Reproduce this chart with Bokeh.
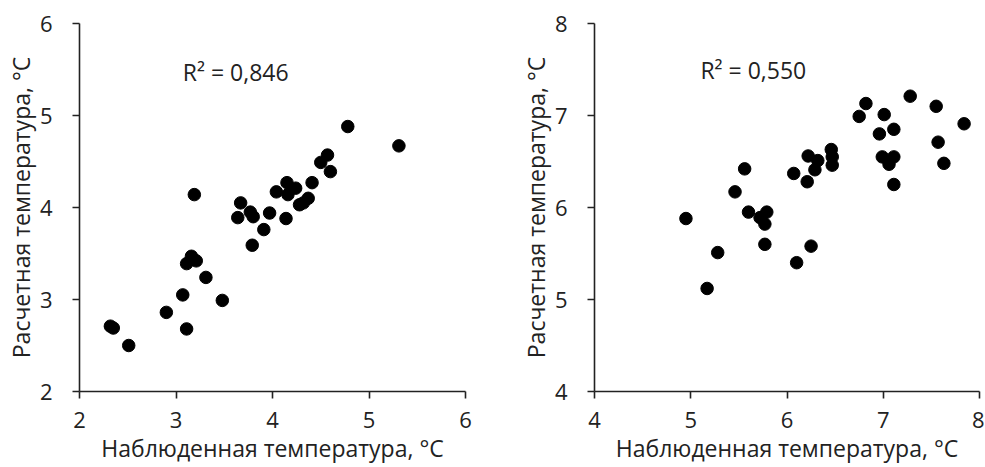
from bokeh.plotting import figure
from bokeh.layouts import row
from bokeh.models import Label, Range1d, FixedTicker
from bokeh.embed import file_html
from bokeh.resources import INLINE

# ---- data ----
obs_a = [2.32, 2.35, 2.51, 2.90, 3.07, 3.11, 3.11, 3.16, 3.21, 3.31, 3.48, 3.19,
         3.79, 3.91, 3.64, 3.67, 3.77, 3.80, 3.97, 4.14, 4.04, 4.15, 4.16, 4.24,
         4.28, 4.32, 4.37, 4.41, 4.50, 4.57, 4.60, 4.78, 5.31]
calc_a = [2.71, 2.69, 2.50, 2.86, 3.05, 2.68, 3.39, 3.47, 3.42, 3.24, 2.99, 4.14,
          3.59, 3.76, 3.89, 4.05, 3.95, 3.90, 3.94, 3.88, 4.17, 4.27, 4.14, 4.21,
          4.03, 4.05, 4.10, 4.27, 4.49, 4.57, 4.39, 4.88, 4.67]

obs_b = [4.95, 5.17, 5.28, 5.46, 5.56, 5.60, 5.72, 5.79, 5.77, 5.77, 6.07, 6.10,
         6.25, 6.21, 6.22, 6.32, 6.29, 6.46, 6.47, 6.47, 6.75, 6.82, 6.96, 7.01,
         7.11, 6.99, 7.11, 7.06, 7.11, 7.28, 7.55, 7.57, 7.63, 7.84]
calc_b = [5.88, 5.12, 5.51, 6.17, 6.42, 5.95, 5.89, 5.95, 5.82, 5.60, 6.37, 5.40,
          5.58, 6.28, 6.56, 6.51, 6.41, 6.63, 6.55, 6.46, 6.99, 7.13, 6.80, 7.01,
          6.85, 6.55, 6.55, 6.47, 6.25, 7.21, 7.10, 6.71, 6.48, 6.91]

r2_labels = ["R\u00b2 = 0,846", "R\u00b2 = 0,550"]
ticks_a = [2, 3, 4, 5, 6]
ticks_b = [4, 5, 6, 7, 8]
x_title = "Наблюденная температура, °C"
y_title = "Расчетная температура, °C"

FONT = "Open Sans"


def make_fig(xs, ys, ticks, r2, r2_pos, width, bl, br):
    p = figure(width=width, height=466, output_backend="svg", toolbar_location=None,
               x_range=Range1d(ticks[0], ticks[-1]), y_range=Range1d(ticks[0], ticks[-1]),
               min_border_left=bl, min_border_right=br, min_border_top=23,
               min_border_bottom=74)
    p.outline_line_color = None
    p.xgrid.visible = False
    p.ygrid.visible = False
    p.background_fill_color = "white"
    p.border_fill_color = "white"
    for ax in (p.xaxis[0], p.yaxis[0]):
        ax.ticker = FixedTicker(ticks=ticks)
        ax.axis_line_color = "#222222"
        ax.axis_line_width = 1.6
        ax.major_tick_line_color = "#222222"
        ax.major_tick_line_width = 1.6
        ax.major_tick_in = 0
        ax.major_tick_out = 7
        ax.minor_tick_line_color = None
        ax.major_label_text_font = FONT
        ax.major_label_text_font_size = "22px"
        ax.major_label_text_color = "#222222"
        ax.axis_label_text_font = FONT
        ax.axis_label_text_font_size = "23px"
        ax.axis_label_text_font_style = "normal"
        ax.axis_label_text_color = "#222222"
    p.xaxis.axis_label = x_title
    p.yaxis.axis_label = y_title
    p.xaxis.major_label_standoff = 13
    p.xaxis.axis_label_standoff = 1
    p.yaxis.major_label_standoff = 20
    p.yaxis.axis_label_standoff = 0
    p.scatter(xs, ys, size=12.5, color="black", line_color="black")
    p.add_layout(Label(x=r2_pos[0], y=r2_pos[1], text=r2, text_font=FONT,
                       text_font_size="23px", text_color="#222222",
                       text_baseline="middle", text_align="left"))
    return p


p1 = make_fig(obs_a, calc_a, ticks_a, r2_labels[0], (3.07, 5.47), 475, 79, 10)
p2 = make_fig(obs_b, calc_b, ticks_b, r2_labels[1], (5.10, 7.49), 509, 119, 5)

layout = row(p1, p2)
open("out.html", "w").write(file_html(layout, INLINE))
